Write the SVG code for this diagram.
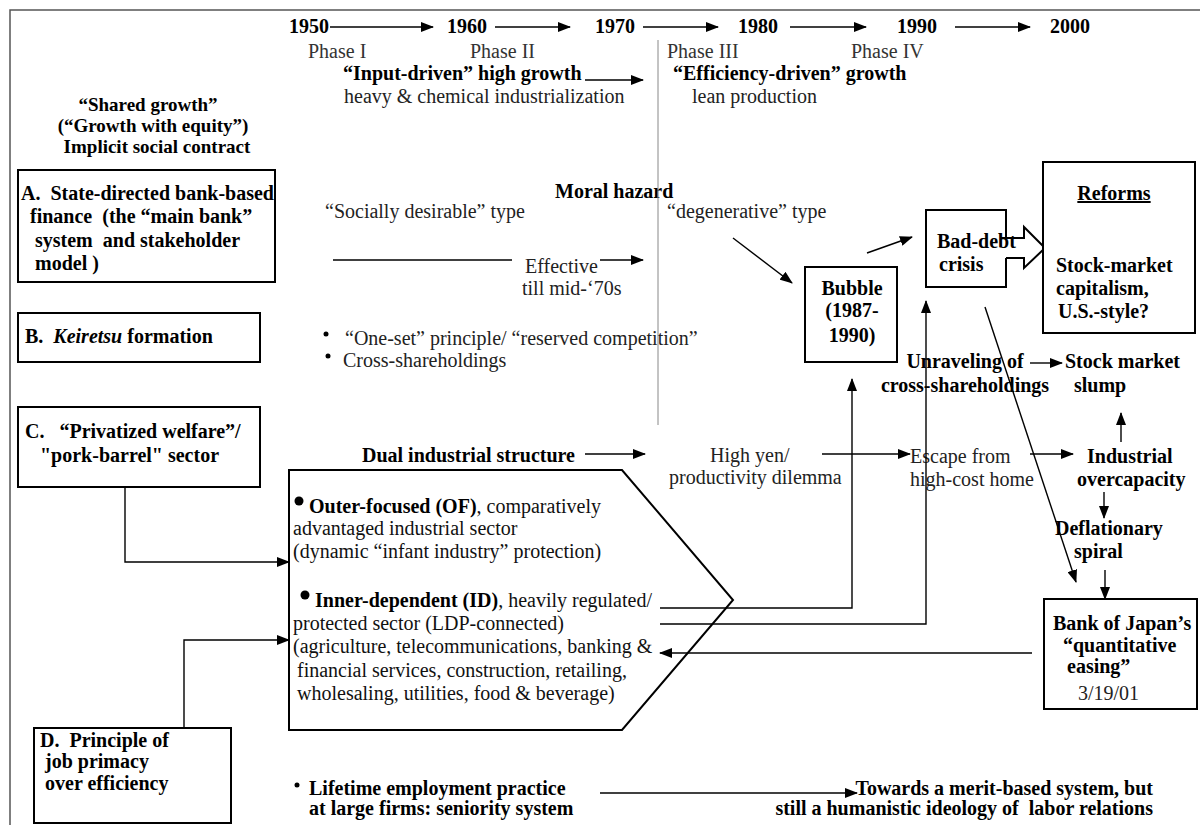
<svg xmlns="http://www.w3.org/2000/svg" width="1200" height="825" viewBox="0 0 1200 825">
<defs>
<marker id="ah" markerUnits="userSpaceOnUse" markerWidth="13" markerHeight="10" refX="12" refY="5" orient="auto">
<path d="M0,0 L13,5 L0,10 z" fill="#000"/>
</marker>
<style>
text{font-family:"Liberation Serif","Times New Roman",serif;font-size:20px;fill:#111}
.b{font-weight:bold;fill:#000}
.r{fill:#222}
.g{fill:#333}
.s19{font-size:19px}
.box{fill:#fff;stroke:#000;stroke-width:2}
.ln{fill:none;stroke:#000;stroke-width:1.4}
.ar{fill:none;stroke:#000;stroke-width:1.4;marker-end:url(#ah)}
.frame{fill:none;stroke:#555;stroke-width:1.5}
.dot{fill:#000}
</style>
</defs>
<rect width="1200" height="825" fill="#fff"/>
<path class="frame" d="M10,825 V10 H1200"/>

<g id="timeline">
<text class="b" x="289" y="33">1950</text>
<text class="b" x="447" y="33">1960</text>
<text class="b" x="595" y="33">1970</text>
<text class="b" x="738" y="33">1980</text>
<text class="b" x="897" y="33">1990</text>
<text class="b" x="1050" y="33">2000</text>
<text class="g" x="308" y="58">Phase I</text>
<text class="g" x="470" y="58">Phase II</text>
<text class="g" x="667" y="58">Phase III</text>
<text class="g" x="851" y="58">Phase IV</text>
</g>

<g id="phase-labels">
<text class="b" x="343" y="80">“Input-driven” high growth</text>
<text class="r" x="344" y="103">heavy &amp; chemical industrialization</text>
<text class="b" x="673" y="80">“Efficiency-driven” growth</text>
<text class="r" x="692" y="103">lean production</text>
</g>

<g id="shared-growth">
<text class="b s19" x="148" y="111" text-anchor="middle">“Shared growth”</text>
<text class="b s19" x="153" y="132" text-anchor="middle">(“Growth with equity”)</text>
<text class="b s19" x="157" y="153" text-anchor="middle">Implicit social contract</text>
</g>

<g id="nodeA">
<rect class="box" x="18" y="170" width="257" height="112"/>
<text class="b" x="21" y="200" xml:space="preserve">A.  State-directed bank-based</text>
<text class="b" x="30" y="223" xml:space="preserve">finance  (the “main bank”</text>
<text class="b" x="35" y="247" xml:space="preserve">system  and stakeholder</text>
<text class="b" x="35" y="270">model )</text>
</g>

<g id="nodeB">
<rect class="box" x="18" y="313" width="242" height="49"/>
<text class="b" x="25" y="343" xml:space="preserve">B.  <tspan font-style="italic">Keiretsu</tspan> formation</text>
</g>

<g id="nodeC">
<rect class="box" x="18" y="407" width="242" height="80"/>
<text class="b" x="25" y="438" xml:space="preserve">C.   “Privatized welfare”/</text>
<text class="b" x="40" y="462">"pork-barrel" sector</text>
</g>

<g id="nodeD">
<rect class="box" x="34" y="728" width="197" height="95"/>
<text class="b" x="40" y="747" xml:space="preserve">D.  Principle of</text>
<text class="b" x="45" y="768">job primacy</text>
<text class="b" x="45" y="790">over efficiency</text>
</g>

<g id="moral-hazard">
<text class="b" x="555" y="198">Moral hazard</text>
<text class="r" x="325" y="218">“Socially desirable” type</text>
<text class="r" x="667" y="218">“degenerative” type</text>
<text class="r" x="525" y="273">Effective</text>
<text class="r" x="522" y="295">till mid-‘70s</text>
</g>

<g id="keiretsu-notes">
<circle class="dot" cx="326" cy="334" r="2.5"/>
<text class="r" x="345" y="345">“One-set” principle/ “reserved competition”</text>
<circle class="dot" cx="328" cy="356" r="2.5"/>
<text class="r" x="343" y="367">Cross-shareholdings</text>
</g>

<g id="dual-structure">
<text class="b" x="362" y="462">Dual industrial structure</text>
<text class="r" x="710" y="462">High yen/</text>
<text class="r" x="669" y="484">productivity dilemma</text>
<text class="r" x="910" y="463">Escape from</text>
<text class="r" x="910" y="486">high-cost home</text>
</g>

<g id="pentagon">
<path class="box" d="M289,470 H622 L733,600 L622,730 H289 Z"/>
<circle class="dot" cx="299" cy="501" r="4.5"/>
<text x="309" y="513"><tspan class="b">Outer-focused (OF)</tspan>, comparatively</text>
<text x="293" y="535">advantaged industrial sector</text>
<text x="293" y="558">(dynamic “infant industry” protection)</text>
<circle class="dot" cx="305" cy="595" r="4.5"/>
<text x="315" y="607"><tspan class="b">Inner-dependent (ID)</tspan>, heavily regulated/</text>
<text x="293" y="630">protected sector (LDP-connected)</text>
<text x="293" y="653">(agriculture, telecommunications, banking &amp;</text>
<text x="297" y="677">financial services, construction, retailing,</text>
<text x="297" y="700">wholesaling, utilities, food &amp; beverage)</text>
</g>

<g id="bubble">
<rect class="box" x="805" y="267" width="92" height="95"/>
<text class="b" x="852" y="295" text-anchor="middle">Bubble</text>
<text class="b" x="852" y="317" text-anchor="middle">(1987-</text>
<text class="b" x="852" y="342" text-anchor="middle">1990)</text>
</g>

<g id="bad-debt">
<path class="box" d="M1006,238 V210 H926 V287 H1006 V258"/>
<text class="b" x="937" y="248">Bad-debt</text>
<text class="b" x="939" y="271">crisis</text>
<path class="box" style="fill:none" d="M1000,238 H1024 V227 L1045,248 L1024,268 V258 H1006"/>
</g>

<g id="reforms">
<rect class="box" x="1043" y="162" width="152" height="171"/>
<text class="b" x="1114" y="200" text-anchor="middle" font-size="22" text-decoration="underline">Reforms</text>
<text class="b" x="1056" y="272">Stock-market</text>
<text class="b" x="1056" y="295">capitalism,</text>
<text class="b" x="1058" y="318">U.S.-style?</text>
</g>

<g id="unraveling">
<text class="b" x="965" y="368" text-anchor="middle">Unraveling of</text>
<text class="b" x="965" y="392" text-anchor="middle">cross-shareholdings</text>
</g>

<g id="stock-slump">
<text class="b" x="1065" y="368">Stock market</text>
<text class="b" x="1074" y="392">slump</text>
</g>

<g id="overcapacity">
<text class="b" x="1087" y="463">Industrial</text>
<text class="b" x="1077" y="486">overcapacity</text>
</g>

<g id="deflation">
<text class="b" x="1055" y="535">Deflationary</text>
<text class="b" x="1074" y="558">spiral</text>
</g>

<g id="boj">
<rect class="box" x="1044" y="599" width="153" height="110"/>
<text class="b" x="1053" y="630">Bank of Japan’s</text>
<text class="b" x="1063" y="652">“quantitative</text>
<text class="b" x="1067" y="673">easing”</text>
<text class="r" x="1078" y="700">3/19/01</text>
</g>

<g id="employment">
<circle class="dot" cx="297" cy="785" r="2.5"/>
<text class="b" x="309" y="795">Lifetime employment practice</text>
<text class="b" x="309" y="815">at large firms: seniority system</text>
<text class="b" x="1153" y="795" text-anchor="end">Towards a merit-based system, but</text>
<text class="b" x="1153" y="815" text-anchor="end" xml:space="preserve">still a humanistic ideology of  labor relations</text>
</g>

<g id="connectors">
<line class="ar" x1="330" y1="27" x2="433" y2="27"/>
<line class="ar" x1="495" y1="27" x2="570" y2="27"/>
<line class="ar" x1="643" y1="27" x2="718" y2="27"/>
<line class="ar" x1="790" y1="27" x2="866" y2="27"/>
<line class="ar" x1="955" y1="27" x2="1030" y2="27"/>
<line x1="658" y1="40" x2="658" y2="425" stroke="#888" stroke-width="1"/>
<line class="ar" x1="585" y1="80" x2="643" y2="80"/>
<line class="ln" x1="333" y1="260" x2="512" y2="260"/>
<line class="ar" x1="600" y1="260" x2="643" y2="260"/>
<line class="ar" x1="733" y1="238" x2="792" y2="283"/>
<line class="ar" x1="867" y1="253" x2="912" y2="237"/>
<line class="ar" x1="585" y1="454" x2="645" y2="454"/>
<line class="ar" x1="822" y1="454" x2="910" y2="454"/>
<line class="ar" x1="1030" y1="454" x2="1073" y2="454"/>
<line class="ar" x1="1030" y1="363" x2="1062" y2="363"/>
<line class="ar" x1="1121" y1="442" x2="1121" y2="413"/>
<line class="ar" x1="1104" y1="492" x2="1104" y2="518"/>
<line class="ar" x1="1105" y1="570" x2="1105" y2="599"/>
<line class="ar" x1="985" y1="307" x2="1076" y2="582"/>
<polyline class="ar" points="660,608 852,608 852,379"/>
<polyline class="ar" points="660,624 926,624 926,301"/>
<line class="ar" x1="1032" y1="653" x2="660" y2="653"/>
<polyline class="ar" points="125,487 125,562 289,562"/>
<polyline class="ar" points="184,728 184,640 289,640"/>
<line class="ar" x1="600" y1="793" x2="857" y2="793"/>
</g>
</svg>
